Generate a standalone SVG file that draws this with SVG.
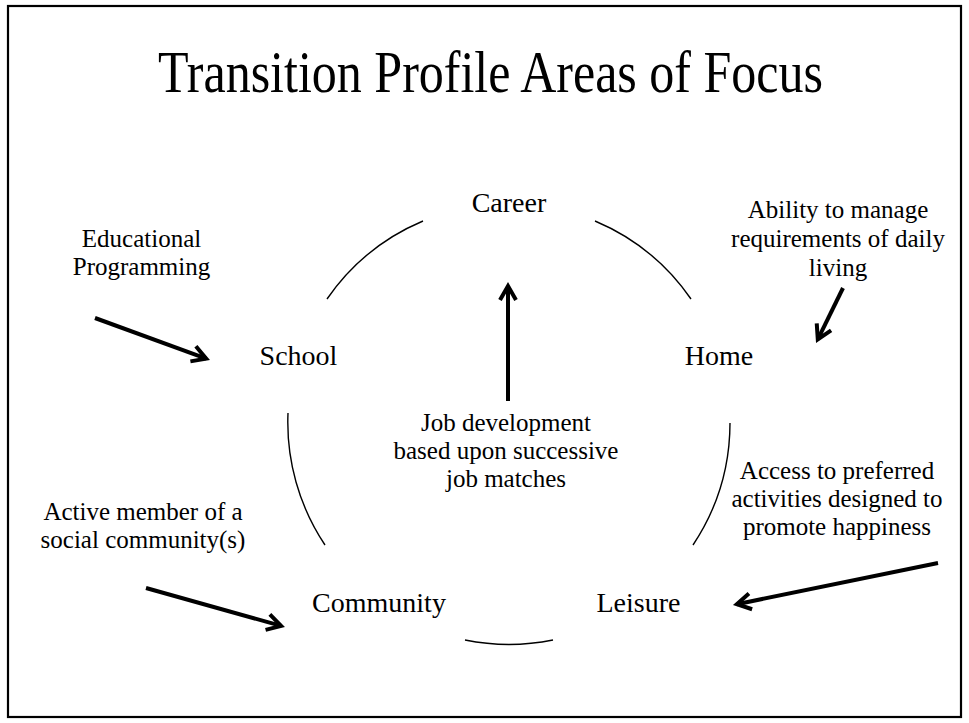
<svg xmlns="http://www.w3.org/2000/svg" width="969" height="723" viewBox="0 0 969 723">
<style>
.title{font-family:"Liberation Serif",serif;font-size:60px;fill:#000}
.node{font-family:"Liberation Serif",serif;font-size:28px;fill:#000;text-anchor:middle}
.body{font-family:"Liberation Serif",serif;font-size:25px;fill:#000;text-anchor:middle}
.ring{fill:none;stroke:#000;stroke-width:1.4}
.arrow{fill:none;stroke:#000;stroke-width:4;marker-end:url(#ah)}
</style>
<defs>
<marker id="ah" markerUnits="userSpaceOnUse" viewBox="-20 -12 28 24" refX="0" refY="0" markerWidth="28" markerHeight="24" orient="auto" overflow="visible">
<path d="M-13.9,-8 L0,0 L-13.9,8" fill="none" stroke="#000" stroke-width="4" stroke-linejoin="miter"/>
</marker>
</defs>
<rect x="0" y="0" width="969" height="723" fill="#fff"/>
<rect x="8" y="6" width="953" height="711" fill="none" stroke="#000" stroke-width="2.2"/>
<g id="title">
<text class="title" x="158" y="92" textLength="665" lengthAdjust="spacingAndGlyphs">Transition Profile Areas of Focus</text>
</g>
<g id="ring">
<path class="ring" d="M327,299 A221,221 0 0 1 423,221"/>
<path class="ring" d="M595,221 A221,221 0 0 1 691,299"/>
<path class="ring" d="M730,423 A221,221 0 0 1 693,545"/>
<path class="ring" d="M553,640 A221,221 0 0 1 465,640"/>
<path class="ring" d="M325,545 A221,221 0 0 1 288,413"/>
</g>
<g id="career"><text class="node" x="509" y="212">Career</text></g>
<g id="school"><text class="node" x="298.5" y="365">School</text></g>
<g id="home"><text class="node" x="719" y="365">Home</text></g>
<g id="community"><text class="node" x="379" y="612">Community</text></g>
<g id="leisure"><text class="node" x="638.5" y="612">Leisure</text></g>
<g id="note-education">
<text class="body" x="141.5" y="247">Educational</text>
<text class="body" x="141.5" y="275">Programming</text>
</g>
<g id="note-home">
<text class="body" x="838" y="218">Ability to manage</text>
<text class="body" x="838" y="247">requirements of daily</text>
<text class="body" x="838" y="276">living</text>
</g>
<g id="note-career">
<text class="body" x="506" y="431">Job development</text>
<text class="body" x="506" y="459">based upon successive</text>
<text class="body" x="506" y="487">job matches</text>
</g>
<g id="note-leisure">
<text class="body" x="837" y="479">Access to preferred</text>
<text class="body" x="837" y="507">activities designed to</text>
<text class="body" x="837" y="535">promote happiness</text>
</g>
<g id="note-community">
<text class="body" x="143" y="520">Active member of a</text>
<text class="body" x="143" y="548">social community(s)</text>
</g>
<g id="connectors">
<line class="arrow" x1="95" y1="318" x2="206.2" y2="358.6"/>
<line class="arrow" x1="508" y1="401" x2="508" y2="286"/>
<line class="arrow" x1="843" y1="288" x2="817.8" y2="339.4"/>
<line class="arrow" x1="938" y1="563" x2="736.9" y2="604.2"/>
<line class="arrow" x1="146" y1="588" x2="281.1" y2="625.9"/>
</g>
</svg>
